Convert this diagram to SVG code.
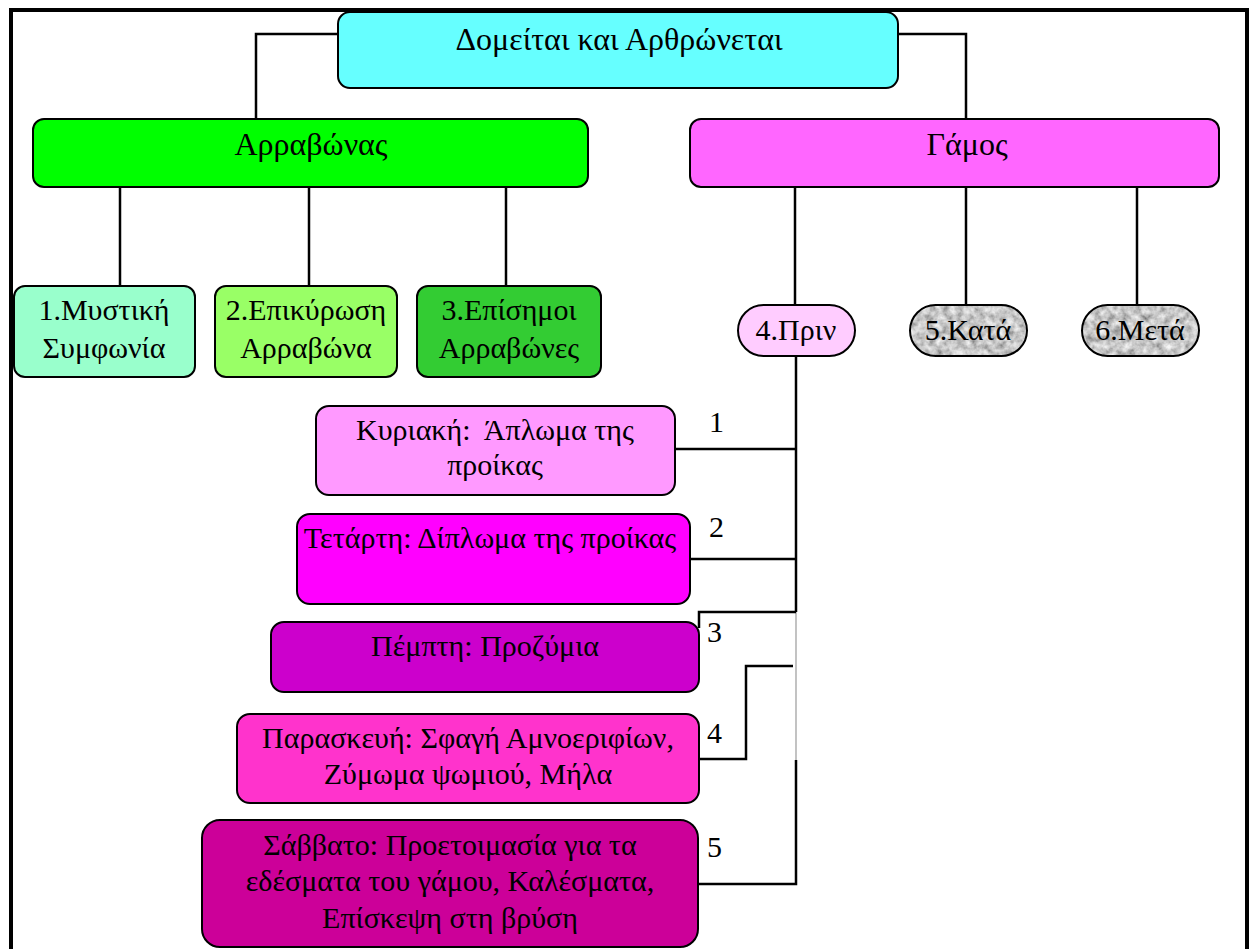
<svg xmlns="http://www.w3.org/2000/svg" width="1254" height="949" viewBox="0 0 1254 949">
  <style>
    .box { stroke: #000; stroke-width: 2; }
    .lbl { font-family: "Liberation Serif", "Times New Roman", "DejaVu Serif", serif; font-size: 30px; fill: #000; text-anchor: middle; }
    .big { font-size: 32px; }
    .num { font-family: "Liberation Serif", "Times New Roman", "DejaVu Serif", serif; font-size: 30px; fill: #000; }
    .wire { fill: none; stroke: #000; stroke-width: 2.5; }
  </style>
  <defs>
    <!-- grey granite surface for the textured pills -->
    <filter id="granite" x="0" y="0" width="1" height="1">
      <feTurbulence type="fractalNoise" baseFrequency="0.14" numOctaves="3" seed="7" result="noise"/>
      <feColorMatrix in="noise" type="matrix" values="1.0 0 0 0 0.08  1.0 0 0 0 0.08  1.0 0 0 0 0.08  0 0 0 0 1" result="grey"/>
      <feComposite in="grey" in2="SourceGraphic" operator="in"/>
    </filter>
  </defs>

  <rect x="0" y="0" width="1254" height="949" fill="#fff"/>
  <!-- page frame -->
  <path d="M11 960 V10 H1247 V960" fill="none" stroke="#000" stroke-width="4"/>

  <g id="connectors">
    <path class="wire" d="M338 34 H256 V119"/>
    <path class="wire" d="M898 34 H966 V119"/>
    <path class="wire" d="M120 187 V286"/>
    <path class="wire" d="M309 187 V286"/>
    <path class="wire" d="M506 187 V286"/>
    <path class="wire" d="M795 187 V305"/>
    <path class="wire" d="M966 187 V305"/>
    <path class="wire" d="M1137 187 V305"/>
    <!-- spine under 4.Πριν -->
    <path class="wire" d="M796 356 V612"/>
    <path d="M796 612 V760" stroke="#9a9a9a" stroke-width="1.2"/>
    <path class="wire" d="M675 449 H796"/>
    <path class="wire" d="M690 559 H796"/>
    <path class="wire" d="M699 628 V612 H796"/>
    <path class="wire" d="M699 759 H746 V666 H793"/>
    <path class="wire" d="M698 884 H796 V760"/>
    <text class="num" x="709" y="432">1</text>
    <text class="num" x="709" y="537">2</text>
    <text class="num" x="707" y="642">3</text>
    <text class="num" x="707" y="743">4</text>
    <text class="num" x="707" y="857">5</text>
  </g>

  <g id="root">
    <rect class="box" x="338" y="12" width="560" height="76" rx="12" fill="#66FFFF"/>
    <text class="lbl big" x="619" y="50">Δομείται και Αρθρώνεται</text>
  </g>

  <g id="engagement">
    <rect class="box" x="33" y="119" width="555" height="68" rx="11" fill="#00FF00"/>
    <text class="lbl big" x="311" y="155">Αρραβώνας</text>
  </g>

  <g id="wedding">
    <rect class="box" x="690" y="119" width="529" height="68" rx="11" fill="#FF66FF"/>
    <text class="lbl big" x="967" y="155">Γάμος</text>
  </g>

  <g id="secret-agreement">
    <rect class="box" x="14" y="286" width="181" height="91" rx="11" fill="#99FFCC"/>
    <text class="lbl" x="104" y="320">1.Μυστική</text>
    <text class="lbl" x="104" y="358">Συμφωνία</text>
  </g>

  <g id="engagement-confirmation">
    <rect class="box" x="215" y="286" width="182" height="91" rx="11" fill="#99FF66"/>
    <text class="lbl" x="306" y="320">2.Επικύρωση</text>
    <text class="lbl" x="306" y="358">Αρραβώνα</text>
  </g>

  <g id="formal-engagement">
    <rect class="box" x="417" y="286" width="184" height="91" rx="11" fill="#33CC33"/>
    <text class="lbl" x="509" y="320">3.Επίσημοι</text>
    <text class="lbl" x="509" y="358">Αρραβώνες</text>
  </g>

  <g id="before">
    <rect class="box" x="738" y="305" width="117" height="51" rx="25.5" fill="#FFCCFF"/>
    <text class="lbl" x="796" y="340">4.Πριν</text>
  </g>

  <g id="during">
    <rect x="910" y="305" width="117" height="51" rx="25.5" fill="#999" filter="url(#granite)"/>
    <rect x="910" y="305" width="117" height="51" rx="25.5" fill="none" stroke="#000" stroke-width="2"/>
    <text class="lbl" x="968" y="340">5.Κατά</text>
  </g>

  <g id="after">
    <rect x="1082" y="305" width="117" height="51" rx="25.5" fill="#999" filter="url(#granite)"/>
    <rect x="1082" y="305" width="117" height="51" rx="25.5" fill="none" stroke="#000" stroke-width="2"/>
    <text class="lbl" x="1140" y="340">6.Μετά</text>
  </g>

  <g id="sunday">
    <rect class="box" x="316" y="406" width="359" height="89" rx="13" fill="#FF99FF"/>
    <text class="lbl" x="495" y="440" xml:space="preserve">Κυριακή:  Άπλωμα της</text>
    <text class="lbl" x="495" y="475">προίκας</text>
  </g>

  <g id="wednesday">
    <rect class="box" x="297" y="514" width="393" height="90" rx="13" fill="#FF00FF"/>
    <text class="lbl" x="490" y="548">Τετάρτη: Δίπλωμα της προίκας</text>
  </g>

  <g id="thursday">
    <rect class="box" x="271" y="622" width="428" height="70" rx="13" fill="#CC00CC"/>
    <text class="lbl" x="485" y="656">Πέμπτη: Προζύμια</text>
  </g>

  <g id="friday">
    <rect class="box" x="237" y="714" width="462" height="89" rx="13" fill="#FF33CC"/>
    <text class="lbl" x="468" y="748">Παρασκευή: Σφαγή Αμνοεριφίων,</text>
    <text class="lbl" x="468" y="784">Ζύμωμα ψωμιού, Μήλα</text>
  </g>

  <g id="saturday">
    <rect class="box" x="202" y="820" width="496" height="127" rx="18" fill="#CC0099"/>
    <text class="lbl" x="450" y="855">Σάββατο: Προετοιμασία για τα</text>
    <text class="lbl" x="450" y="891">εδέσματα του γάμου, Καλέσματα,</text>
    <text class="lbl" x="450" y="928">Επίσκεψη στη βρύση</text>
  </g>
</svg>
